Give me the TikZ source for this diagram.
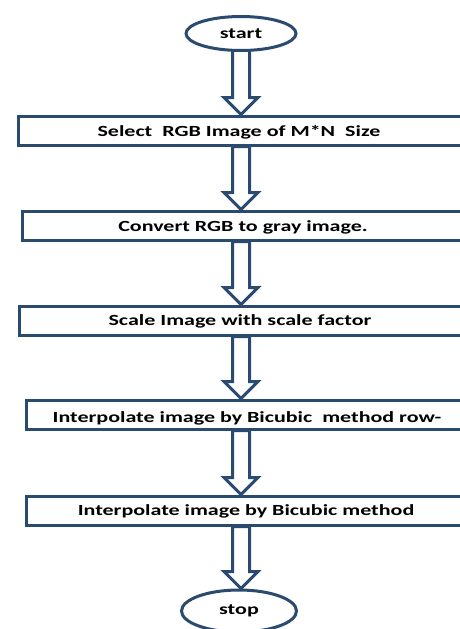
\documentclass[tikz,border=0pt]{standalone}
\usepackage{fontspec}
\setmainfont{Carlito}
\usepackage{graphicx}
\usetikzlibrary{calc,backgrounds,shapes.geometric}
\definecolor{navy}{HTML}{2B4A6F}
\newcommand{\wide}[1]{\scalebox{1.42}[1]{#1}}
\newcommand{\blockarrow}[2]{%
  \draw[blk] let \p1=(#1), \p2=(#2) in
    (\x1-8.5pt,\y1) -- (\x1-8.5pt,\y2+17pt) -- (\x1-17pt,\y2+17pt) -- (\x1,\y2)
    -- (\x1+17pt,\y2+17pt) -- (\x1+8.5pt,\y2+17pt) -- (\x1+8.5pt,\y1) -- cycle;}
\begin{document}
\begin{tikzpicture}[x=1pt,y=-1pt,
  box/.style={draw=navy, line width=3pt, fill=white, rectangle, inner sep=0pt,
    anchor=north west, minimum width=470pt, minimum height=29pt},
  term/.style={draw=navy, line width=3pt, fill=white, ellipse, inner sep=0pt,
    font=\fontsize{15.5}{18}\selectfont\bfseries},
  lbl/.style={font=\fontsize{15.5}{18}\selectfont\bfseries, inner sep=0pt, anchor=base},
  blk/.style={draw=navy, line width=3pt, fill=white, line join=miter}]
\useasboundingbox (0,0) rectangle (460,629);
\clip (0,0) rectangle (460,629);
\coordinate (ax) at (241,0);
\node[term, minimum width=110pt, minimum height=34pt] (start) at (241,33.5) {\wide{start}};
\node[box] (b1) at (16.5,114.5) {};
\node[box] (b2) at (20.5,209.5) {};
\node[box] (b3) at (17.5,304.5) {};
\node[box] (b4) at (24.5,398.5) {};
\node[box] (b5) at (24.5,494.5) {};
\node[term, minimum width=115pt, minimum height=42pt] (stop) at (239,611) {\wide{stop}};
\node[lbl] (t1) at (239,136) {\wide{Select\ \ RGB Image of M*N\ \ Size}};
\node[lbl] (t2) at (243,231) {\wide{Convert RGB to gray image.}};
\node[lbl] (t3) at (240,325) {\wide{Scale Image with scale factor}};
\node[lbl] (t4) at (247,422) {\wide{Interpolate image by Bicubic\ \ method row-}};
\node[lbl] (t5) at (246,515) {\wide{Interpolate image by Bicubic method}};
\begin{pgfonlayer}{background}
\fill[white] (0,0) rectangle (460,629);
\blockarrow{start.center}{ax |- b1.north}
\blockarrow{ax |- b1.south}{ax |- b2.north}
\blockarrow{ax |- b2.south}{ax |- b3.north}
\blockarrow{ax |- b3.south}{ax |- b4.north}
\blockarrow{ax |- b4.south}{ax |- b5.north}
\blockarrow{ax |- b5.south}{stop.north}
\end{pgfonlayer}
\end{tikzpicture}
\end{document}
